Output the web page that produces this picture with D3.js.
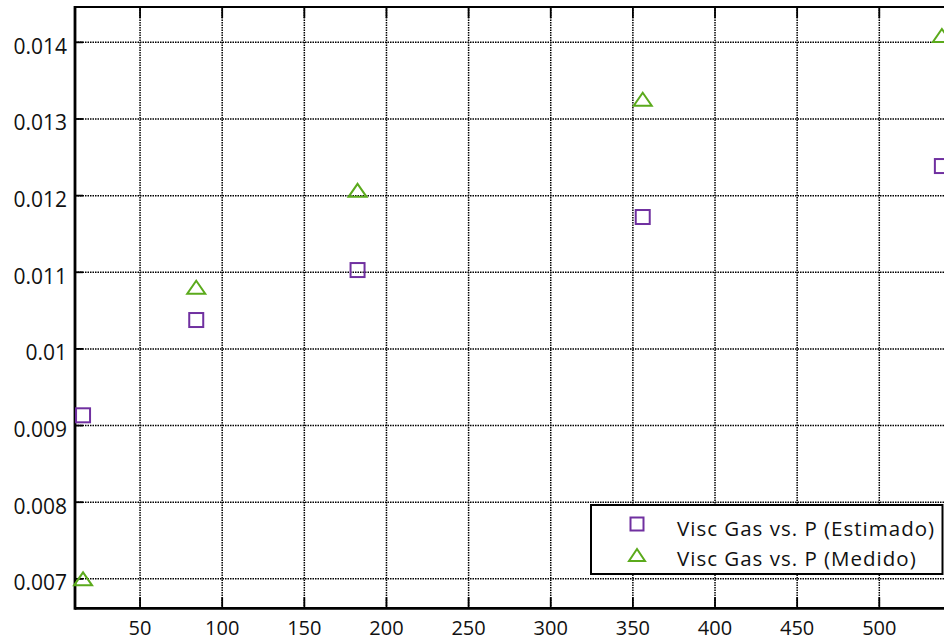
<!DOCTYPE html>
<html>
<head>
<meta charset="utf-8">
<script src="https://cdn.jsdelivr.net/npm/d3@7"></script>
<style>
  html, body { margin: 0; padding: 0; background: #fff; }
  svg { display: block; }
  text { font-family: "Open Sans", "Noto Sans", sans-serif; fill: #111; }
</style>
</head>
<body>
<svg id="chart" width="944" height="641"></svg>
<script>
// ---- data ----
const pressure = [15.3, 84.2, 182.4, 356.0, 538.1];
const viscEstimado = [0.009134, 0.010377, 0.011029, 0.011721, 0.012386];
const viscMedido = [0.007, 0.010805, 0.012069, 0.013258, 0.014089];
const xTicks = [50, 100, 150, 200, 250, 300, 350, 400, 450, 500];
const yTicks = [0.007, 0.008, 0.009, 0.010, 0.011, 0.012, 0.013, 0.014];
const yTickLabels = ["0.007", "0.008", "0.009", "0.01", "0.011", "0.012", "0.013", "0.014"];
const seriesNames = ["Visc Gas vs. P (Estimado)", "Visc Gas vs. P (Medido)"];
const seriesColors = ["#7030A0", "#5BAA1C"];

const svg = d3.select("#chart");
const pL = 75, pR = 945, pT = 7, pB = 608.3;

const x = d3.scaleLinear().domain([10.4, 540]).range([pL, pR]);
const y = d3.scaleLinear().domain([0.006616, 0.014461]).range([pB, pT]);

// grid
const grid = svg.append("g");
grid.selectAll("line.gx").data(xTicks).join("line")
  .attr("x1", d => x(d)).attr("x2", d => x(d))
  .attr("y1", pT).attr("y2", pB)
  .attr("stroke", "#000").attr("stroke-width", 1.5).attr("stroke-dasharray", "1.5,1");
grid.selectAll("line.gy").data(yTicks).join("line")
  .attr("x1", pL).attr("x2", pR)
  .attr("y1", d => y(d)).attr("y2", d => y(d))
  .attr("stroke", "#000").attr("stroke-width", 1.5).attr("stroke-dasharray", "1.5,1");

// inward ticks (solid)
const ticks = svg.append("g");
ticks.selectAll("line.tb").data(xTicks).join("line")
  .attr("x1", d => x(d)).attr("x2", d => x(d))
  .attr("y1", pB).attr("y2", pB - 11)
  .attr("stroke", "#000").attr("stroke-width", 1.8);
ticks.selectAll("line.tt").data(xTicks).join("line")
  .attr("x1", d => x(d)).attr("x2", d => x(d))
  .attr("y1", pT).attr("y2", pT + 11)
  .attr("stroke", "#000").attr("stroke-width", 1.8);
ticks.selectAll("line.tl").data(yTicks).join("line")
  .attr("x1", pL).attr("x2", pL + 8)
  .attr("y1", d => y(d)).attr("y2", d => y(d))
  .attr("stroke", "#000").attr("stroke-width", 1.8);

// frame
svg.append("line").attr("x1", pL).attr("x2", pR).attr("y1", pT).attr("y2", pT)
  .attr("stroke", "#000").attr("stroke-width", 2);
svg.append("line").attr("x1", pL).attr("x2", pL).attr("y1", pT - 1).attr("y2", pB + 1.5)
  .attr("stroke", "#000").attr("stroke-width", 2.8);
svg.append("line").attr("x1", pL).attr("x2", pR).attr("y1", pB).attr("y2", pB)
  .attr("stroke", "#000").attr("stroke-width", 2.8);

// axis labels
svg.append("g").selectAll("text").data(xTicks).join("text")
  .attr("x", d => x(d)).attr("y", 635)
  .attr("text-anchor", "middle").attr("font-size", 20)
  .text(d => d);
svg.append("g").selectAll("text").data(yTicks).join("text")
  .attr("x", 67).attr("y", d => y(d) + 11.5)
  .attr("text-anchor", "end").attr("font-size", 21)
  .text((d, i) => yTickLabels[i]);

// markers
const sq = 14;
const triPath = (w, h) => `M0,${-h/2}L${w/2},${h/2}L${-w/2},${h/2}Z`;
const pts = pressure.map((p, i) => ({p, e: viscEstimado[i], m: viscMedido[i]}));
const marks = svg.append("g");
marks.selectAll("rect").data(pts).join("rect")
  .attr("x", d => x(d.p) - sq/2).attr("y", d => y(d.e) - sq/2)
  .attr("width", sq).attr("height", sq)
  .attr("fill", "none").attr("stroke", seriesColors[0]).attr("stroke-width", 2);
marks.selectAll("path").data(pts).join("path")
  .attr("transform", d => `translate(${x(d.p)},${y(d.m)})`)
  .attr("d", triPath(18, 13))
  .attr("fill", "none").attr("stroke", seriesColors[1]).attr("stroke-width", 2)
  .attr("stroke-linejoin", "miter");

// legend
const lg = svg.append("g");
lg.append("rect").attr("x", 591).attr("y", 505).attr("width", 351.5).attr("height", 69)
  .attr("fill", "#fff").attr("stroke", "#000").attr("stroke-width", 2);
lg.append("rect").attr("x", 637 - 6.5).attr("y", 524 - 6.5).attr("width", 13).attr("height", 13)
  .attr("fill", "none").attr("stroke", seriesColors[0]).attr("stroke-width", 2);
lg.append("path").attr("transform", "translate(637,555)").attr("d", triPath(16, 12))
  .attr("fill", "none").attr("stroke", seriesColors[1]).attr("stroke-width", 2);
lg.selectAll("text").data(seriesNames).join("text")
  .attr("x", 677).attr("y", (d, i) => 535.5 + i * 30.5)
  .attr("font-size", 20.5).attr("letter-spacing", 1.0)
  .text(d => d);
</script>
</body>
</html>
